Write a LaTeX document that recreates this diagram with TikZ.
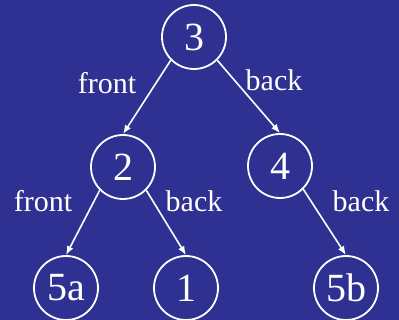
\documentclass[tikz,border=0pt]{standalone}
\usepackage{fontspec}
\setmainfont{Liberation Serif}
\usetikzlibrary{arrows.meta}
\definecolor{bg}{RGB}{46,49,146}
\begin{document}
\begin{tikzpicture}[x=1pt,y=-1pt,
  tnode/.style={circle,draw=white,line width=1.8pt,minimum size=64pt,inner sep=0pt,text=white,font=\fontsize{40}{44}\selectfont},
  lbl/.style={text=white,font=\fontsize{30}{34}\selectfont,inner sep=0pt,anchor=base},
  conn/.style={draw=white,line width=1.6pt,-{Latex[length=9pt,width=7pt]}}]
\fill[bg] (0,0) rectangle (399,320);
\useasboundingbox (0,0) rectangle (399,320);
\node[tnode] (n3) at (194,37) {3};
\node[tnode] (n2) at (123,167) {2};
\node[tnode] (n4) at (280,166) {4};
\node[tnode] (n5a) at (66,288) {5a};
\node[tnode] (n1) at (186,288) {1};
\node[tnode] (n5b) at (346,288) {5b};
\draw[conn] (n3.south west) -- (n2.north);
\draw[conn] (n3.south east) -- (n4.north);
\draw[conn] (n2.south west) -- (n5a.north);
\draw[conn] (n2.south east) -- (n1.north);
\draw[conn] (n4.south east) -- (n5b.north);
\node[lbl] (l1) at (107,94) {front};
\node[lbl] (l2) at (274,91) {back};
\node[lbl] (l3) at (43,212) {front};
\node[lbl] (l4) at (194,212) {back};
\node[lbl] (l5) at (361,212) {back};
\end{tikzpicture}
\end{document}
